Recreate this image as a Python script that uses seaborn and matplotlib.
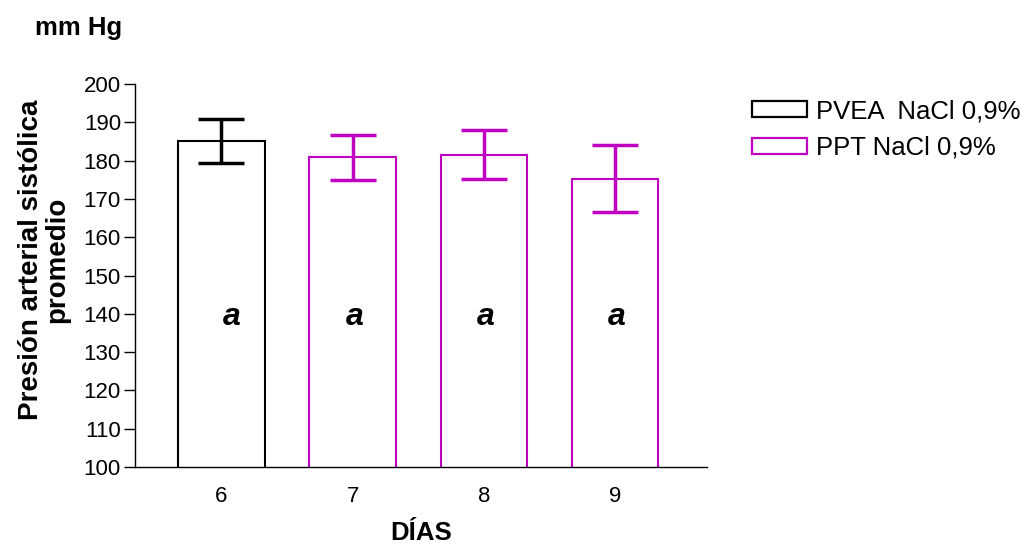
import matplotlib
matplotlib.use("Agg")
import matplotlib.pyplot as plt
import pandas as pd
import seaborn as sns
from matplotlib.patches import Patch

dias = ["6", "7", "8", "9"]
pas_media = [185.2, 180.9, 181.5, 175.3]
pas_error = [5.8, 5.9, 6.4, 8.8]
grupos = ["PVEA  NaCl 0,9%", "PPT NaCl 0,9%", "PPT NaCl 0,9%", "PPT NaCl 0,9%"]
letras = ["a", "a", "a", "a"]

colores = {"PVEA  NaCl 0,9%": "#000000", "PPT NaCl 0,9%": "#C000C0"}

sns.set_theme(style="ticks")
plt.rcParams["font.family"] = ["Liberation Sans", "DejaVu Sans"]
plt.rcParams.update({"text.color": "black", "axes.labelcolor": "black",
                     "xtick.color": "black", "ytick.color": "black"})

df = pd.DataFrame({"dia": dias, "pas": pas_media, "err": pas_error, "grupo": grupos})

fig = plt.figure(figsize=(10.29, 5.44), dpi=100)
ax = fig.add_axes([0.131, 0.1415, 0.556, 0.704])

sns.barplot(data=df, x="dia", y="pas", hue="grupo", palette=colores, fill=False,
            dodge=False, width=0.66, linewidth=1.5, errorbar=None, legend=False, ax=ax)

for i, row in df.iterrows():
    ax.errorbar(i, row["pas"], yerr=row["err"], color=colores[row["grupo"]],
                elinewidth=2.5, capsize=16.5, capthick=2.5, zorder=3)
    ax.text(i + (0.08 if i == 0 else 0.015), 137.2, letras[i], ha="center", va="baseline",
            fontsize=23, fontweight="bold", fontstyle="italic", color="black")

ax.set_xlim(-0.66, 3.70)
ax.set_ylim(100, 200)
ax.set_yticks(range(100, 201, 10))
ax.tick_params(axis="y", length=8, width=1, labelsize=16, pad=2)
ax.tick_params(axis="x", length=0, labelsize=16, pad=14)
ax.spines["top"].set_visible(False)
ax.spines["right"].set_visible(False)
for s in ("left", "bottom"):
    ax.spines[s].set_color("black")
    ax.spines[s].set_linewidth(1)

ax.set_xlabel("DÍAS", fontsize=18.5, fontweight="bold", labelpad=10)
ax.set_ylabel("Presión arterial sistólica\npromedio", fontsize=20, fontweight="bold",
              linespacing=1.05)
ax.yaxis.set_label_coords(-0.112, 0.54)

fig.text(0.034, 0.948, "mm Hg", fontsize=18.5, fontweight="bold", ha="left", va="center")

handles = [Patch(facecolor="white", edgecolor=c, linewidth=1.6) for c in colores.values()]
fig.legend(handles, list(colores.keys()), loc="center left", bbox_to_anchor=(0.7308, 0.762),
           frameon=False, fontsize=18.5, handlelength=2.14, handleheight=0.55,
           handletextpad=0.35, labelspacing=0.5, borderpad=0, borderaxespad=0)

fig.savefig("out.png", dpi=100)
